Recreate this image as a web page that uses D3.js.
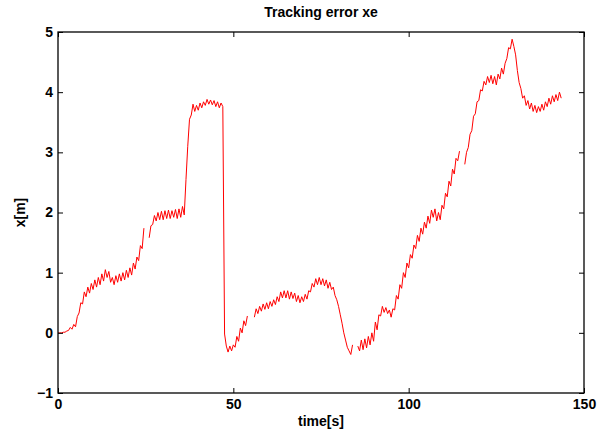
<!DOCTYPE html>
<html>
<head>
<meta charset="utf-8">
<script src="https://cdn.jsdelivr.net/npm/d3@7"></script>
<style>
  body { margin: 0; background: #fff; }
  text { font-family: "Liberation Sans", Arial, sans-serif; font-weight: bold; fill: #000; }
</style>
</head>
<body>
<div id="plot"></div>
<script>
var svgWidth = 609;
var svgHeight = 432;

var margin = { top: 32, right: 25, bottom: 39, left: 58 };
var width = svgWidth - margin.left - margin.right;
var height = svgHeight - margin.top - margin.bottom;

// sampling: one value every 0.5 s starting at t = 0, null = missing sample
var tStart = 0;
var tStep = 0.5;
var xe = [
  0.00, 0.00, 0.00, 0.01, 0.01, 0.03, 0.04, 0.09, 0.06, 0.14,
  0.10, 0.27, 0.33, 0.50, 0.48, 0.68, 0.60, 0.76, 0.66, 0.82,
  0.72, 0.88, 0.76, 0.92, 0.80, 0.98, 0.86, 1.05, 0.92, 1.02,
  0.84, 0.92, 0.80, 0.95, 0.84, 0.98, 0.86, 1.00, 0.88, 1.04,
  0.92, 1.08, 0.96, 1.16, 1.06, 1.26, 1.20, 1.45, 1.40, 1.74,
  null, null, 1.58, 1.78, 1.80, 1.95, 1.86, 2.00, 1.88, 2.02,
  1.88, 2.03, 1.90, 2.04, 1.90, 2.03, 1.92, 2.05, 1.90, 2.06,
  1.92, 2.10, 1.96, 2.55, 3.10, 3.55, 3.62, 3.80, 3.68, 3.78,
  3.70, 3.82, 3.74, 3.84, 3.78, 3.88, 3.80, 3.87, 3.79, 3.86,
  3.76, 3.84, 3.74, 3.82, 3.76, -0.02, -0.22, -0.32, -0.22, -0.30,
  -0.20, -0.24, -0.06, -0.14, 0.08, 0.00, 0.20, 0.12, 0.28, null,
  null, null, 0.26, 0.40, 0.32, 0.44, 0.36, 0.48, 0.39, 0.50,
  0.40, 0.52, 0.44, 0.55, 0.47, 0.60, 0.52, 0.68, 0.58, 0.70,
  0.58, 0.70, 0.56, 0.68, 0.57, 0.66, 0.52, 0.62, 0.50, 0.60,
  0.52, 0.64, 0.56, 0.70, 0.68, 0.82, 0.76, 0.90, 0.80, 0.92,
  0.80, 0.90, 0.78, 0.88, 0.74, 0.84, 0.72, 0.76, 0.62, 0.55,
  0.44, 0.30, 0.16, 0.00, -0.12, -0.24, -0.30, -0.36, -0.20, null,
  null, -0.22, -0.30, -0.12, -0.28, -0.10, -0.25, -0.06, -0.20, 0.00,
  -0.14, 0.18, 0.05, 0.30, 0.28, 0.44, 0.34, 0.42, 0.32, 0.38,
  0.26, 0.40, 0.38, 0.62, 0.56, 0.80, 0.74, 1.00, 0.92, 1.16,
  1.08, 1.30, 1.24, 1.46, 1.40, 1.62, 1.52, 1.74, 1.64, 1.84,
  1.74, 1.94, 1.82, 2.04, 1.92, 2.06, 1.86, 2.00, 1.88, 2.12,
  2.06, 2.32, 2.26, 2.52, 2.44, 2.72, 2.64, 2.90, 2.86, 3.02,
  null, null, 2.80, 3.00, 3.08, 3.30, 3.36, 3.60, 3.64, 3.84,
  3.86, 4.04, 4.02, 4.18, 4.12, 4.26, 4.16, 4.28, 4.14, 4.26,
  4.12, 4.30, 4.22, 4.40, 4.30, 4.48, 4.56, 4.74, 4.72, 4.88,
  4.76, 4.62, 4.36, 4.16, 4.06, 3.90, 3.94, 3.78, 3.86, 3.72,
  3.82, 3.68, 3.78, 3.66, 3.76, 3.68, 3.80, 3.70, 3.84, 3.76,
  3.90, 3.80, 3.94, 3.84, 3.96, 3.86, 4.00, 3.90
];

var xTicks = [0, 50, 100, 150];
var yTicks = [-1, 0, 1, 2, 3, 4, 5];

var titleText = "Tracking error xe";
var xLabel = "time[s]";
var yLabel = "x[m]";

var points = xe.map(function(v, i) {
  return { t: tStart + i * tStep, x: v };
});

var svg = d3.select("#plot")
  .append("svg")
  .attr("width", svgWidth)
  .attr("height", svgHeight);

svg.append("rect")
  .attr("width", svgWidth)
  .attr("height", svgHeight)
  .attr("fill", "#fff");

var chart = svg.append("g")
  .attr("transform", `translate(${margin.left}, ${margin.top})`);

var xScale = d3.scaleLinear().domain([0, 150]).range([0, width]);
var yScale = d3.scaleLinear().domain([-1, 5]).range([height, 0]);

// data line
var line = d3.line()
  .defined(d => d.x !== null)
  .x(d => xScale(d.t))
  .y(d => yScale(d.x));

chart.append("path")
  .datum(points)
  .attr("fill", "none")
  .attr("stroke", "#ff0000")
  .attr("stroke-width", 1)
  .attr("d", line);

// axes, ticks pointing inward (matlab style)
function styleAxis(g) {
  g.select(".domain").remove();
  g.selectAll("line").attr("stroke", "#000");
  g.selectAll("text")
    .style("font-family", "'Liberation Sans', Arial, sans-serif")
    .style("font-weight", "bold")
    .style("font-size", "14px")
    .attr("fill", "#000");
}

var fmt = d3.format("d");

chart.append("g")
  .attr("transform", `translate(0, ${height})`)
  .call(d3.axisBottom(xScale).tickValues(xTicks).tickFormat(fmt).tickSizeInner(-5).tickSizeOuter(0).tickPadding(6))
  .call(styleAxis);

chart.append("g")
  .call(d3.axisTop(xScale).tickValues(xTicks).tickSizeInner(-5).tickSizeOuter(0).tickFormat(""))
  .call(styleAxis);

chart.append("g")
  .call(d3.axisLeft(yScale).tickValues(yTicks).tickFormat(fmt).tickSizeInner(-5).tickSizeOuter(0).tickPadding(5))
  .call(styleAxis);

chart.append("g")
  .attr("transform", `translate(${width}, 0)`)
  .call(d3.axisRight(yScale).tickValues(yTicks).tickSizeInner(-5).tickSizeOuter(0).tickFormat(""))
  .call(styleAxis);

// box
chart.append("rect")
  .attr("x", 0)
  .attr("y", 0)
  .attr("width", width)
  .attr("height", height)
  .attr("fill", "none")
  .attr("stroke", "#000")
  .attr("stroke-width", 1.3);

// title and labels
chart.append("text")
  .attr("x", width / 2)
  .attr("y", -15)
  .attr("text-anchor", "middle")
  .style("font-size", "14px")
  .text(titleText);

chart.append("text")
  .attr("x", width / 2)
  .attr("y", height + 33)
  .attr("text-anchor", "middle")
  .style("font-size", "14px")
  .text(xLabel);

chart.append("text")
  .attr("transform", "rotate(-90)")
  .attr("x", -height / 2)
  .attr("y", -33)
  .attr("text-anchor", "middle")
  .style("font-size", "14px")
  .text(yLabel);
</script>
</body>
</html>
